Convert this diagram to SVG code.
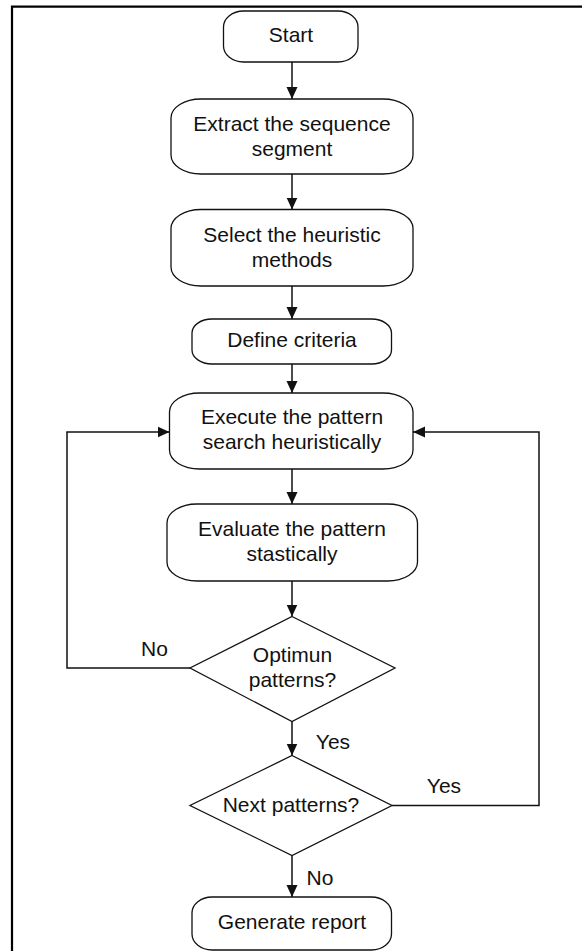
<svg xmlns="http://www.w3.org/2000/svg" width="582" height="951" viewBox="0 0 582 951">
  <style>
    .shape { fill: #ffffff; stroke: #111111; stroke-width: 1.3; }
    .label { font-family: "Liberation Sans", Arial, sans-serif; font-size: 21px; fill: #111111; text-anchor: middle; }
    .edge { fill: none; stroke: #111111; stroke-width: 1.5; }
    .frame { fill: none; stroke: #000000; stroke-width: 2.2; }
  </style>
  <defs>
    <marker id="arrow" viewBox="0 0 12 12" refX="12" refY="6" markerWidth="12" markerHeight="12" markerUnits="userSpaceOnUse" orient="auto">
      <path d="M0,0.5 L12,6 L0,11.5 Z" fill="#111111"/>
    </marker>
  </defs>

  <rect width="582" height="951" fill="#ffffff"/>
  <!-- page frame (open at right and bottom) -->
  <polyline class="frame" points="12,951 12,6.7 582,6.7"/>

  <!-- connectors -->
  <g id="connectors">
    <line class="edge" x1="292" y1="62" x2="292" y2="99" marker-end="url(#arrow)"/>
    <line class="edge" x1="292" y1="174" x2="292" y2="209.5" marker-end="url(#arrow)"/>
    <line class="edge" x1="292" y1="286" x2="292" y2="319" marker-end="url(#arrow)"/>
    <line class="edge" x1="292" y1="364" x2="292" y2="393" marker-end="url(#arrow)"/>
    <line class="edge" x1="292" y1="469" x2="292" y2="504" marker-end="url(#arrow)"/>
    <line class="edge" x1="292" y1="581" x2="292" y2="616.5" marker-end="url(#arrow)"/>
    <line class="edge" x1="292" y1="721.5" x2="292" y2="755.5" marker-end="url(#arrow)"/>
    <line class="edge" x1="292" y1="855.5" x2="292" y2="897" marker-end="url(#arrow)"/>
    <!-- No: back to the search step -->
    <polyline class="edge" points="190,668 67,668 67,432 169.5,432" marker-end="url(#arrow)"/>
    <!-- Yes: next pattern search -->
    <polyline class="edge" points="392,805.5 539,805.5 539,432 413,432" marker-end="url(#arrow)"/>
    <text class="label" x="154.5" y="656">No</text>
    <text class="label" x="333" y="749">Yes</text>
    <text class="label" x="444" y="793">Yes</text>
    <text class="label" x="320" y="885">No</text>
  </g>

  <g id="start">
    <rect class="shape" x="223.5" y="11" width="134.5" height="51" rx="20" ry="16"/>
    <text class="label" x="291" y="41.7">Start</text>
  </g>

  <g id="extract">
    <rect class="shape" x="171" y="99" width="242" height="75" rx="30" ry="19"/>
    <text class="label" x="292" y="130.5">Extract the sequence</text>
    <text class="label" x="292" y="155.5">segment</text>
  </g>

  <g id="select">
    <rect class="shape" x="171" y="209.5" width="242" height="76.5" rx="30" ry="19"/>
    <text class="label" x="292" y="241.5">Select the heuristic</text>
    <text class="label" x="292" y="266.5">methods</text>
  </g>

  <g id="define">
    <rect class="shape" x="192" y="319" width="199.5" height="45" rx="20" ry="14"/>
    <text class="label" x="292" y="347">Define criteria</text>
  </g>

  <g id="execute">
    <rect class="shape" x="169.5" y="393" width="243.5" height="76" rx="30" ry="19"/>
    <text class="label" x="292" y="424">Execute the pattern</text>
    <text class="label" x="292" y="449">search heuristically</text>
  </g>

  <g id="evaluate">
    <rect class="shape" x="167" y="504" width="250.5" height="77" rx="30" ry="19"/>
    <text class="label" x="292" y="535.5">Evaluate the pattern</text>
    <text class="label" x="292" y="560.5">stastically</text>
  </g>

  <g id="optimum">
    <polygon class="shape" points="292,616.5 395,668 292,721.5 190,668"/>
    <text class="label" x="292.5" y="662.3">Optimun</text>
    <text class="label" x="292.5" y="686.7">patterns?</text>
  </g>

  <g id="next">
    <polygon class="shape" points="292,755.5 392,805.5 292,855.5 190,805.5"/>
    <text class="label" x="291" y="812">Next patterns?</text>
  </g>

  <g id="report">
    <rect class="shape" x="192" y="897" width="199.5" height="53" rx="20" ry="16"/>
    <text class="label" x="292" y="928.5">Generate report</text>
  </g>
</svg>
